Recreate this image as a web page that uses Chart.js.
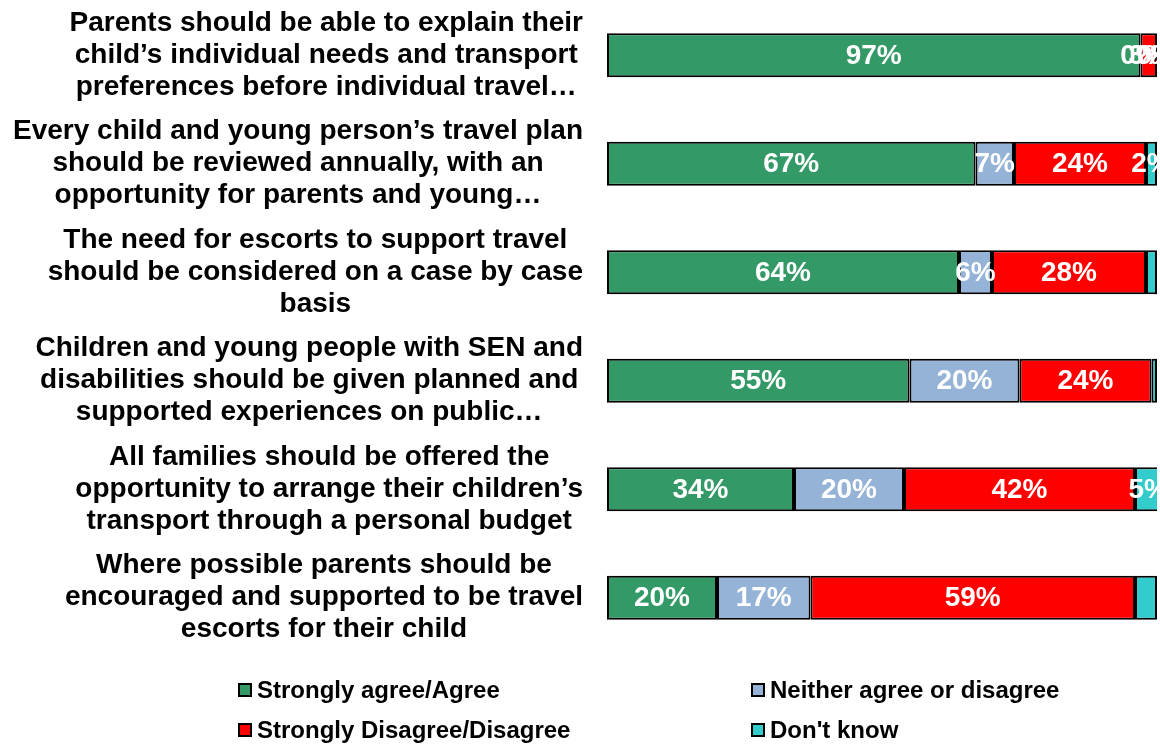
<!DOCTYPE html>
<html>
<head>
<meta charset="utf-8">
<script src="https://cdn.jsdelivr.net/npm/chart.js@4/dist/chart.umd.min.js"></script>
<style>
    html, body { margin: 0; padding: 0; background: #fff; }
    #wrap { position: relative; width: 1160px; height: 745px; font-family: "Liberation Sans", Arial, sans-serif; }
    #chartBox { position: absolute; left: 0; top: 0; width: 1160px; height: 660px; }
    #legend { position: absolute; left: 0; top: 0; width: 1160px; height: 745px; pointer-events: none; }
    .legend-item { position: absolute; display: flex; align-items: center; height: 30px; font-weight: bold; font-size: 24px; color: #000; white-space: nowrap; }
    .legend-item .swatch { width: 10px; height: 10px; border: 2px solid #000; margin-right: 5px; }
</style>
</head>
<body>
<div id="wrap">
    <div id="chartBox"><canvas id="attitudesChart"></canvas></div>
    <div id="legend"></div>
</div>
<script>
const statements = [
    ['Parents should be able to explain their', 'child\u2019s individual needs and transport', 'preferences before individual travel\u2026'],
    ['Every child and young person\u2019s travel plan', 'should be reviewed annually, with an', 'opportunity for parents and young\u2026'],
    ['The need for escorts to support travel', 'should be considered on a case by case', 'basis'],
    ['Children and young people with SEN and', 'disabilities should be given planned and', 'supported experiences on public\u2026'],
    ['All families should be offered the', 'opportunity to arrange their children\u2019s', 'transport through a personal budget'],
    ['Where possible parents should be', 'encouraged and supported to be travel', 'escorts for their child']
];

const responseNames = ['Strongly agree/Agree', 'Neither agree or disagree', 'Strongly Disagree/Disagree', 'Don\'t know'];
const responseColors = ['#339966', '#95B3D7', '#FF0000', '#33CCCC'];

const agreeValues = [97, 67, 64, 55, 34, 20];
const neitherValues = [0, 7, 6, 20, 20, 17];
const disagreeValues = [3, 24, 28, 24, 42, 59];
const dontKnowValues = [0, 2, 2, 1, 5, 4];

// small "don't know" slices where the percentage is not printed
const dontKnowLabelShown = [true, true, false, false, true, false];

const seriesValues = [agreeValues, neitherValues, disagreeValues, dontKnowValues];
const seriesLabelShown = [
    statements.map(() => true),
    statements.map(() => true),
    statements.map(() => true),
    dontKnowLabelShown
];

const FONT = '"Liberation Sans", Arial, sans-serif';

// statement text: lines centred on each other, block right-aligned to the bars
const statementLabels = {
    id: 'statementLabels',
    afterDraw(chart) {
        const ctx = chart.ctx;
        const yScale = chart.scales.y;
        const right = chart.chartArea.left - 24;
        const lineHeight = 32;
        ctx.save();
        ctx.font = 'bold 28px ' + FONT;
        ctx.fillStyle = '#000';
        ctx.textAlign = 'center';
        ctx.textBaseline = 'middle';
        statements.forEach((lines, i) => {
            const cy = yScale.getPixelForValue(i);
            const widest = Math.max(...lines.map(l => ctx.measureText(l).width));
            const cx = right - widest / 2;
            lines.forEach((line, j) => {
                ctx.fillText(line, cx, cy + (j - (lines.length - 1) / 2) * lineHeight);
            });
        });
        ctx.restore();
    }
};

const segmentLabels = {
    id: 'segmentLabels',
    afterDatasetsDraw(chart) {
        const ctx = chart.ctx;
        ctx.save();
        ctx.font = 'bold 28px ' + FONT;
        ctx.fillStyle = '#fff';
        ctx.textAlign = 'center';
        ctx.textBaseline = 'middle';
        chart.data.datasets.forEach((ds, di) => {
            const meta = chart.getDatasetMeta(di);
            meta.data.forEach((bar, i) => {
                if (!seriesLabelShown[di][i]) return;
                const x = (bar.x + bar.base) / 2;
                ctx.fillText(ds.data[i] + '%', x, bar.y + 1);
            });
        });
        ctx.restore();
    }
};

function buildLegend(chart) {
    const box = document.getElementById('legend');
    box.innerHTML = '';
    chart.data.datasets.forEach((ds, i) => {
        const item = document.createElement('div');
        item.className = 'legend-item';
        item.style.left = (i % 2 === 0 ? 238 : 751) + 'px';
        item.style.top = (i < 2 ? 675 : 715) + 'px';
        const swatch = document.createElement('span');
        swatch.className = 'swatch';
        swatch.style.background = ds.backgroundColor;
        const text = document.createElement('span');
        text.textContent = ds.label;
        item.appendChild(swatch);
        item.appendChild(text);
        box.appendChild(item);
    });
}

function initChart() {
    const ctx = document.getElementById('attitudesChart').getContext('2d');

    const chart = new Chart(ctx, {
        type: 'bar',
        data: {
            labels: statements,
            datasets: responseNames.map((name, i) => ({
                label: name,
                data: seriesValues[i],
                backgroundColor: responseColors[i],
                borderColor: '#000',
                borderWidth: 2,
                borderSkipped: false,
                barPercentage: 0.405,
                categoryPercentage: 1
            }))
        },
        options: {
            indexAxis: 'y',
            responsive: true,
            maintainAspectRatio: false,
            animation: false,
            layout: {
                padding: { left: 607, right: 3, top: 1, bottom: 8 }
            },
            scales: {
                x: { stacked: true, min: 0, max: 100, display: false },
                y: { stacked: true, display: false }
            },
            plugins: {
                legend: { display: false },
                tooltip: { enabled: false }
            }
        },
        plugins: [statementLabels, segmentLabels]
    });

    buildLegend(chart);
}

document.addEventListener('DOMContentLoaded', initChart);
</script>
</body>
</html>
